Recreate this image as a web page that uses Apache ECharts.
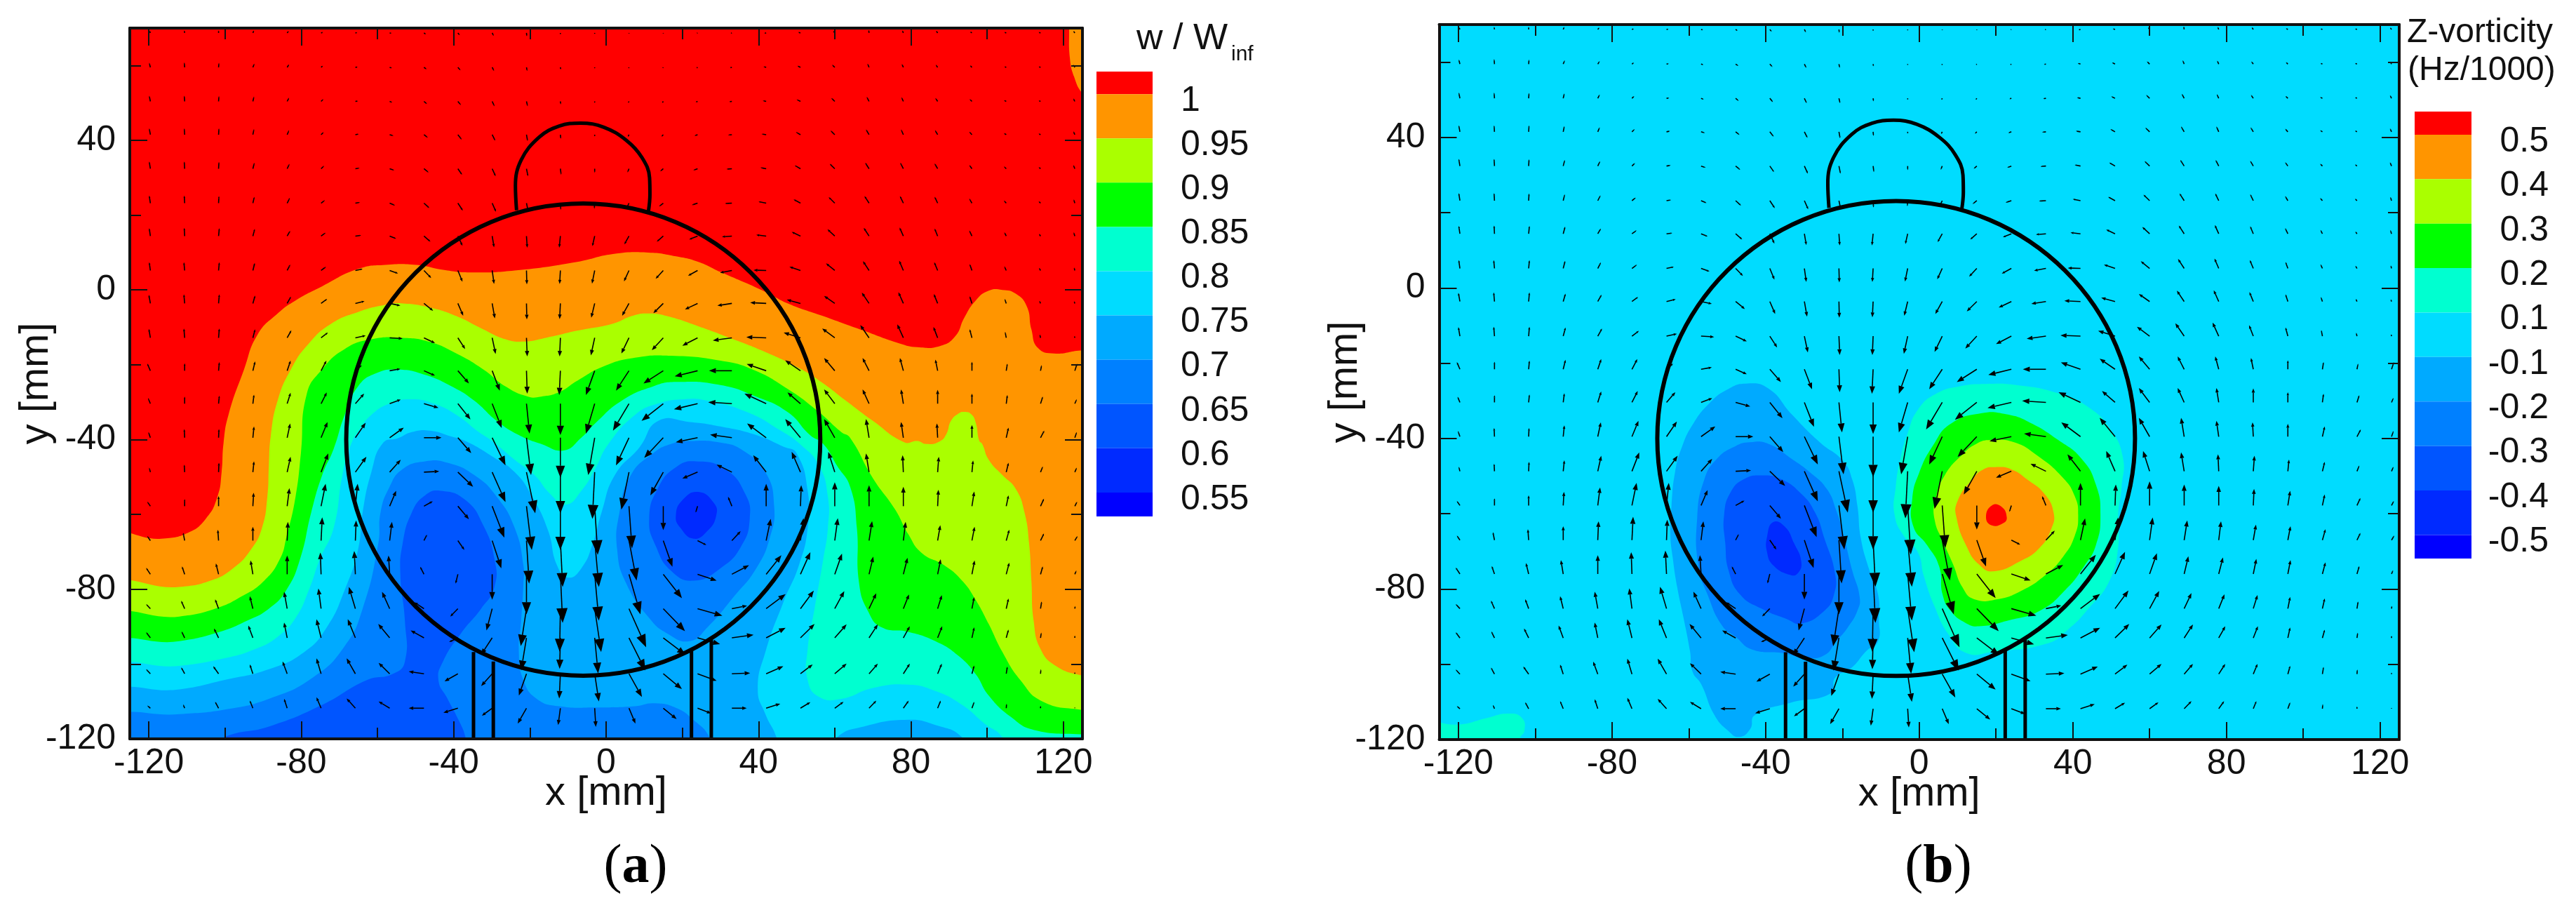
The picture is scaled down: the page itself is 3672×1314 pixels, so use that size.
<!DOCTYPE html>
<html>
<head>
<meta charset="utf-8">
<title>Wake survey</title>
<style>
  html, body { margin: 0; padding: 0; background: #fff; }
  #chart { width: 3672px; height: 1314px; }
</style>
<script src="https://cdn.jsdelivr.net/npm/echarts@6/dist/echarts.min.js"></script>
</head>
<body>
<div id="chart"></div>
<script>
// colour bands, top of the legend to the bottom
const bandColors = ['#ff0000', '#ff9500', '#aaff00', '#00ff00', '#00ffd0', '#00dcff', '#00aaff', '#0080ff', '#0055ff', '#002aff', '#0000ff']
const velLabels = ['1', '0.95', '0.9', '0.85', '0.8', '0.75', '0.7', '0.65', '0.6', '0.55']
const vortLabels = ['0.5', '0.4', '0.3', '0.2', '0.1', '-0.1', '-0.2', '-0.3', '-0.4', '-0.5']
const majorTicks = [-120, -80, -40, 0, 40, 80, 120]
const minorTicksX = [-100, -60, -20, 20, 60, 100]
const yMajorTicks = [-120, -80, -40, 0, 40]
const yMinorTicks = [-100, -60, -20, 20, 60]

// w / Winf contours [x mm, y mm]
const vel100 = [[-130,-66.9],[-116.7,-66.5],[-109.7,-64.9],[-105,-61.1],[-102,-55.3],[-100.9,-48.7],[-100.4,-41],[-99.1,-33.4],[-95,-21.2],[-91.5,-12],[-86.2,-6.3],[-81.5,-2.8],[-74.5,1],[-65.1,5.6],[-58,6.7],[-49.8,6.7],[-42.8,5.4],[-35.8,4.7],[-24,5.2],[-7.6,7.5],[1.8,9.6],[11.1,10],[18.3,9],[24.2,7.5],[30,4.8],[41.8,-.5],[47.7,-3.6],[57,-7],[67.6,-10.9],[77,-14.3],[81.7,-15.3],[87.6,-15],[91.6,-12.4],[94,-7.4],[97,-2.8],[100.4,-.2],[104,0],[107.5,-1],[110.4,-4.4],[111.6,-10.5],[113.3,-15.5],[117.5,-17],[124.5,-16.2],[131,-16],[131,-126],[-130,-126]]
const vel100Corner = [[121.5,76],[121.5,70],[121.7,62],[122.8,57],[125,52.5],[131,46],[131,76]]
const vel095 = [[-130,-80.6],[-112,-79.4],[-103.8,-77.7],[-97.9,-74.4],[-93.2,-69.4],[-90.3,-63.6],[-88.9,-55.3],[-88.5,-47],[-88,-39],[-86.2,-29.6],[-82.7,-21.2],[-78,-14.3],[-72.1,-9],[-65.1,-5.9],[-58,-4],[-53.4,-3.6],[-46.3,-4.7],[-39.3,-7],[-32.3,-10.5],[-26.4,-13.2],[-21.7,-13.8],[-15.8,-12.8],[-7.6,-10.9],[1.8,-9],[7,-6.9],[11.3,-6.3],[16,-7],[24.2,-9.7],[32.4,-12.8],[41.8,-16.6],[51.2,-21.2],[57,-25],[62.9,-29.6],[70,-35],[78.2,-40.7],[81.7,-40.4],[84,-41.2],[87.5,-40.5],[89.3,-38.5],[90.5,-35],[92.5,-33],[94,-32.6],[95.8,-33.2],[97,-35.5],[97.9,-40.3],[98.7,-41.2],[100.4,-45.4],[104,-49.5],[107.5,-53.2],[109.8,-59.5],[111,-67.8],[111.6,-77.7],[112.2,-88.5],[114,-96],[118,-100.5],[124.5,-103],[131,-104],[131,-126],[-130,-126]]
const vel090 = [[-130,-88.8],[-112,-87.3],[-102.6,-85.2],[-95.6,-81.9],[-89.7,-77.7],[-85.6,-71.9],[-83.9,-66.1],[-81.5,-55.3],[-80.1,-43.7],[-78.6,-28],[-74.5,-21.2],[-68.6,-15.8],[-61.6,-13.2],[-53.4,-12.8],[-46.3,-13.9],[-39.3,-17],[-32.3,-21.2],[-26.4,-25.8],[-20.5,-28.5],[-17,-28.5],[-12.3,-27.3],[-7.6,-24.3],[-.6,-20.4],[7.6,-18.1],[17,-17.6],[30,-18.9],[38.3,-21.2],[47.7,-26.5],[55.9,-32.7],[61.7,-38],[64,-39.5],[70,-50.3],[75.8,-58.6],[79.3,-65.3],[82.8,-70.3],[88.7,-73.6],[93.4,-77.7],[96.9,-82.7],[100.4,-89.3],[104,-96.8],[108.7,-104.3],[114.5,-110],[124.5,-112.2],[131,-112.5],[131,-126],[-130,-126]]
const vel085 = [[-130,-96],[-112,-93.9],[-101.4,-91.4],[-94.4,-88.5],[-88.5,-85.2],[-83.9,-80.2],[-80.3,-71.9],[-77.4,-59.5],[-74.5,-49.5],[-71.5,-42.5],[-68.6,-33.4],[-65.1,-25.8],[-60.4,-22.3],[-54.5,-21.3],[-47.5,-22.7],[-40.5,-25.8],[-34.6,-29.6],[-28.7,-35],[-22.9,-38.8],[-17,-41.2],[-11.1,-42.9],[-6.5,-39.5],[-2.9,-35.7],[4.1,-29.6],[12.3,-25.8],[18.3,-24.6],[30,-25.4],[39.4,-28.5],[47.7,-32.7],[53.5,-38.8],[57,-41.2],[60.6,-47],[64.1,-52.8],[65.8,-63.6],[66.4,-78.5],[68.8,-86],[72.3,-90.2],[79.3,-91.4],[86.4,-93.9],[92.2,-97.6],[96.9,-102.6],[100.4,-108.4],[106.3,-114.2],[112.2,-117.6],[124.5,-118.8],[131,-119],[131,-126],[-130,-126]]
const vel080 = [[-130,-102],[-112,-100.5],[-100.3,-98.5],[-92.1,-96],[-86.2,-92.7],[-81.5,-87.7],[-78,-80.2],[-75.1,-71.9],[-71.5,-63.6],[-69.2,-49.5],[-66.9,-41.2],[-64.5,-37],[-61.6,-33.4],[-56.9,-30.4],[-51,-29.2],[-45.2,-30.4],[-39.3,-33.4],[-33.4,-38],[-29.9,-40.4],[-24,-45.4],[-18.8,-49.5],[-14.7,-54.5],[-10.6,-57.4],[-6.5,-53.7],[-2.9,-47.9],[.6,-41.2],[7.6,-33.4],[13.5,-30.4],[20.5,-29.2],[26.5,-29.6],[37.1,-32.7],[45.3,-37.3],[51.2,-41.5],[55.9,-47],[58.2,-55.3],[58.2,-63.6],[57,-71.9],[54.7,-85.2],[52.9,-96],[52.9,-104.3],[55.9,-108.8],[61.7,-109.3],[70,-106.4],[79.3,-105.5],[86.4,-107.2],[93.4,-110.9],[99.3,-115.9],[104,-119.6],[106,-126],[-130,-126]]
const vel075 = [[-130,-108.4],[-112,-106.8],[-100.3,-104.3],[-88.5,-101.4],[-79.2,-96.8],[-73.3,-90.2],[-68.6,-80.2],[-65.1,-69.4],[-63.9,-59.5],[-61.6,-48.7],[-58.6,-41],[-54.5,-39.6],[-51,-38],[-46.3,-37.6],[-40.5,-39.2],[-36.9,-40.4],[-29.9,-44.5],[-24,-48.7],[-19.4,-55.3],[-15.2,-64.4],[-12.9,-73.6],[-10,-76.9],[-6.5,-74.4],[-3.5,-67.8],[-1.2,-59.5],[2.3,-49.5],[8.8,-42],[13.7,-35],[21.9,-35.3],[30,-36.5],[39.4,-38.8],[46.5,-41.9],[50,-43.7],[52.9,-53.7],[52.9,-63.6],[50.6,-73.6],[46.5,-83.5],[41.8,-96.8],[39.8,-106.8],[41.8,-113.4],[44.7,-119.6],[46,-126],[-130,-126]]
const vel075Bottom = [[57,-126],[60.6,-119.6],[67.6,-116.7],[79.3,-114.9],[86.4,-116.3],[93.4,-119.6],[96,-126]]
const vel070 = [[-130,-114.7],[-112,-113.4],[-100.3,-112.2],[-88.5,-109.3],[-76.8,-103.5],[-68.6,-95.2],[-63.9,-85.2],[-59.8,-67.8],[-59.2,-59.5],[-56.9,-52.8],[-53.4,-47.9],[-47.5,-45.8],[-41.6,-46.2],[-34.6,-49.5],[-28.7,-55.3],[-24,-63.6],[-21.7,-73.6],[-21.7,-78.5],[-22.3,-88.5],[-22.9,-96.8],[-21.7,-104.3],[-18.2,-109.3],[-12.3,-111.3],[-2.9,-111.6],[7.6,-111.3],[12.5,-110.5],[18.3,-111.7],[23,-115],[27.1,-119.6],[28.5,-126],[-130,-126]]
const vel070Right = [[21.9,-40.4],[30,-40.8],[35.9,-42.9],[41.8,-48.7],[44.1,-57.8],[43,-66.1],[39.4,-74.4],[33.6,-81.9],[26.6,-90.2],[21.9,-93.9],[16,-91.8],[11.3,-87.7],[5.3,-78.5],[2.9,-69.4],[3.5,-59.5],[6.5,-49.5],[12.3,-43.7],[17,-41.2]]
const vel065 = [[-100.3,-119.6],[-88.5,-116.7],[-74.5,-110.9],[-62.8,-104.3],[-55.9,-102.6],[-52.8,-99.3],[-52.8,-88.5],[-54,-76.1],[-53.4,-67.8],[-51,-59.5],[-47.5,-54.9],[-43.4,-53.7],[-37,-56.1],[-32.3,-62.8],[-29.3,-71.9],[-29.3,-79.4],[-32.8,-85.2],[-38.1,-91.8],[-42.8,-99.3],[-44,-104.3],[-41.6,-109.3],[-38.7,-115],[-36.9,-119.6],[-36,-126],[-110,-126]]
const vel065Right = [[23.6,-45.8],[31.2,-47.9],[36.5,-54.5],[37.7,-61.1],[35.4,-68.6],[30,-74.4],[23,-77.7],[17.2,-75.2],[13.1,-68.6],[11.3,-61.1],[13.7,-52.8],[18.3,-47.4]]
const vel060 = [[24.2,-54],[28.3,-57],[28.9,-60.3],[26.6,-64.4],[23,-66.5],[19.5,-63.6],[18.3,-60.3],[20.1,-56.1]]

// z-vorticity contours
const vortM01 = [[-45.2,-25.4],[-39.3,-26.7],[-33.2,-33.6],[-25.9,-41],[-19.8,-46],[-17.4,-51],[-16.1,-57.8],[-15.2,-66.5],[-13.1,-74.6],[-10.7,-81.5],[-10.5,-88],[-10.7,-93.9],[-13.7,-96.4],[-17.7,-101],[-21.9,-103.6],[-23,-107.7],[-33.5,-110.2],[-42.8,-113.5],[-44,-117.2],[-46.9,-119.3],[-49.8,-117.6],[-53.3,-113.5],[-56.8,-105.2],[-59,-102],[-59.7,-96.4],[-61.5,-87],[-63,-79.6],[-64.2,-71.5],[-64.8,-65.3],[-64.5,-57.8],[-63.6,-49.1],[-61.8,-42.3],[-58.8,-36],[-54.5,-30.5],[-50,-27]]
const vortM02 = [[-44.1,-41],[-39.3,-41.4],[-33.2,-45.4],[-28.3,-49.1],[-24,-53.5],[-21.6,-59.1],[-19.8,-65.3],[-17.4,-75.2],[-15.5,-82.1],[-16.1,-85.8],[-18.6,-90.2],[-21.6,-93.9],[-24.7,-97.6],[-29.5,-98.3],[-35.6,-97],[-43.5,-96.1],[-47.8,-92.7],[-51.4,-89.6],[-55.1,-81.5],[-57.5,-74],[-57.8,-60.9],[-56,-51],[-52.7,-45.4],[-47.8,-42]]
const vortM03 = [[-41.1,-49.8],[-36.2,-50.7],[-30.7,-54.7],[-27.1,-59.7],[-24.7,-66.5],[-21.9,-75.9],[-22.2,-81.5],[-24.7,-85.8],[-30.7,-89.2],[-34.4,-88],[-41.1,-85.2],[-46.6,-81.5],[-49.6,-75.2],[-50.5,-67.8],[-50.8,-60.3],[-49,-54.1],[-45.4,-50.7]]
const vortM04 = [[-38,-62.2],[-35,-63.4],[-32.6,-67.8],[-30.7,-72.8],[-31.7,-75.9],[-33.8,-76.2],[-38,-73.7],[-39.6,-70.3],[-39.6,-66]]
const vortP01 = [[17.4,-25.5],[25.3,-25.8],[36.2,-28],[44.1,-31.7],[49.6,-37.3],[53,-44.8],[52.7,-52.9],[51.8,-60.3],[51.8,-69],[49.6,-77.7],[44.1,-85.2],[38.7,-90.8],[33.2,-94.5],[19.6,-96.6],[12.3,-97],[7.6,-92],[4,-84.6],[1.2,-76.5],[-.3,-70.3],[-4,-65.9],[-6.4,-60.3],[-6.1,-52.8],[-4.9,-45.4],[-3,-38.6],[-.3,-32.3],[4.6,-28],[10.7,-26.1]]
const vortP01Corner = [[-130,-116],[-119.7,-116],[-112.7,-114.3],[-106.9,-113.1],[-103.4,-114.3],[-102.8,-117.6],[-104,-119.7],[-105,-126],[-130,-126]]
const vortP02 = [[16.1,-33.3],[22.8,-33.6],[28.9,-35.8],[36.2,-40.4],[42.3,-45.4],[46,-52.2],[47.2,-60.3],[46,-68.4],[42.9,-74],[38.1,-80.2],[31.4,-85.8],[23.4,-88.3],[15.5,-89.9],[11.9,-88.9],[8.2,-85.8],[6.1,-81.5],[5.2,-74],[2.1,-68.4],[-1.5,-63.4],[-1.8,-56],[0,-49.1],[3.7,-41.7],[8.2,-36.1]]
const vortP03 = [[18.6,-40.4],[24.7,-41],[30.7,-44.5],[37.4,-50.4],[40.5,-55.3],[41.4,-60.3],[40.5,-65.9],[37.4,-71.5],[32.6,-76.5],[26.5,-80.5],[20.4,-82.7],[14.3,-82.7],[11.3,-79.6],[8.8,-73.4],[6.4,-67.8],[4,-61.5],[4.3,-56],[6.7,-49.7],[11.3,-44.2],[14.9,-41.4]]
const vortP04 = [[19.8,-47.6],[24,-48.2],[28.3,-51],[32.6,-54.7],[35,-59.7],[34.4,-64],[31.4,-69],[26.5,-72.5],[19.2,-75.3],[15.5,-73.4],[12.5,-69],[9.7,-61],[10,-56.6],[13.7,-51],[16.7,-48.2]]
const vortP05 = [[18.9,-57.8],[21.4,-58.1],[22.8,-60.9],[21.9,-62.5],[18.9,-63.1],[17.4,-60.9]]

// head outline, both panels
const headCentre = [-6, -40]
const headRadius = [62.2, 63.1]
const noseLine = [[-23.5,21.3],[-23.8,27.8],[-22.3,34.7],[-17.6,40.8],[-12.3,43.8],[-6.7,44.6],[-.6,43.5],[5.3,40],[9.4,35.4],[11.4,30],[11.5,25.5],[11.1,21]]
const supportLines = [[[-34.8,-96.8],[-34.8,-120]], [[-29.6,-99.3],[-29.6,-120]], [[22.4,-96.4],[22.4,-120]], [[27.6,-93.5],[27.6,-120]]]

// velocity arrows: tail positions and components in mm, same field on both panels
const arrowX = [-119.6,-110.6,-101.7,-92.7,-83.7,-74.8,-65.8,-56.8,-47.8,-38.9,-29.9,-20.9,-12,-3,6,15,24,33,42,51,60,69,78,87,96,105,114,123]
const arrowY = [68.7,59.5,50.4,41.5,32.4,23.2,14.4,5.2,-3.6,-12.8,-21.6,-30.4,-39.5,-48.7,-57.8,-67,-76,-85.2,-93,-102.6,-111.8]
const arrowU = [
  [-.2,-.1,0,.3,.4,.5,.5,.5,.5,.5,.4,.1,0,0,0,0,-.2,-.3,-.5,-.6,-.4,-.1,-.3,-.4,-.5,-.5,-.5,-.4],
  [-.3,-.1,.1,.4,.5,.5,.6,.6,.7,.7,.5,.2,.1,0,-.1,-.2,-.3,-.5,-.7,-.8,-.7,-.4,-.4,-.5,-.5,-.5,-.5,-.4],
  [-.3,-.1,.1,.3,.5,.6,.7,.7,.8,.8,.6,.3,.1,0,-.2,-.3,-.5,-.7,-.9,-1,-.9,-.6,-.5,-.6,-.6,-.6,-.5,-.4],
  [-.3,-.1,.1,.3,.5,.7,.9,1,1,1,.8,.3,.1,0,-.3,-.5,-.8,-1,-1.2,-1.2,-1.1,-.8,-.6,-.7,-.7,-.6,-.5,-.4],
  [-.3,-.1,.1,.4,.6,.8,1.1,1.2,1.2,1.1,.9,.4,.2,0,-.4,-.8,-1.1,-1.4,-1.5,-1.5,-1.3,-1,-.8,-.8,-.7,-.6,-.5,-.4],
  [-.3,-.1,.1,.4,.7,1,1.2,1.4,1.4,1.3,1,.5,.1,-.1,-.6,-1.1,-1.5,-1.8,-2,-1.8,-1.6,-1.2,-.9,-.8,-.7,-.6,-.5,-.3],
  [-.3,-.1,.2,.5,.8,1.2,1.5,1.7,1.7,1.2,.5,.2,-.3,-.6,-1.2,-1.7,-2.2,-2.6,-2.6,-2.3,-1.9,-1.4,-1,-.8,-.7,-.5,-.4,-.3],
  [-.3,-.2,.2,.5,.8,1.3,1.9,2.2,1.9,1.2,.5,.1,-.2,-.7,-1.3,-2,-2.5,-3.1,-3.3,-2.9,-2.3,-1.6,-1.1,-.9,-.6,-.5,-.4,-.2],
  [-.4,-.2,.2,.6,1,1.6,2.4,2.8,2.4,1.4,.7,.1,-.2,-.9,-1.8,-2.6,-3.3,-3.8,-4.2,-3.6,-2.8,-1.9,-1.3,-1,-.6,-.4,-.3,-.2],
  [-.4,-.2,.2,.6,1.1,1.8,2.7,3.4,2.9,1.9,.9,.2,-.2,-1,-2,-3,-4,-5,-5.2,-4.4,-3.3,-2.3,-1.6,-1.1,-.6,-.3,-.2,-.1],
  [-.8,0,.2,.6,.9,1.4,1.7,2.8,2.9,2.9,2,.2,-.3,-2.3,-3.4,-5.2,-6,-6,-5.1,-4,-2.8,-1.7,-.9,-.6,0,.3,.3,.6],
  [-.6,0,.2,.3,.9,1.5,2.3,2.9,3.8,3.3,2.5,.8,0,-2.3,-4.2,-5.7,-6.2,-6.2,-5.7,-3.4,-2.8,-1.7,-.6,0,0,.3,.6,.5],
  [-.5,-.1,.1,.3,.8,1.7,2.7,3.7,4.6,3.5,3.5,1.2,0,-1.7,-3.4,-5,-5.7,-5.7,-5,-4,-2.8,-.8,-.6,-.2,0,.6,1,.5],
  [-.3,-.1,.1,.3,.9,1.9,2.9,2.9,4,4,3.5,2.3,0,-.6,-2,-3.4,-4,-4,-3.4,-2.3,-1.7,-.8,-.2,.3,.3,.6,.6,.5],
  [-.8,0,0,.2,.6,1.2,.6,1.7,2.3,2.9,3.2,1.4,0,.8,.8,0,-.5,-1,0,.2,0,0,0,.2,.6,.6,.9,.6],
  [-.8,-.4,-.2,0,.2,.3,.2,.6,.8,1.7,2.4,.7,.6,1.1,2,2.4,2.3,2.3,1.2,.8,.8,.8,.6,.7,.7,.8,.9,.7],
  [-1.1,-.7,-.7,-.6,0,-.2,-.3,-.3,-1,-.6,0,0,.6,1.1,3,4.9,5,4.5,4,2.6,1.9,1.1,1.1,.8,.7,.8,.6,.4],
  [-1.1,-.9,-.9,-.8,-.8,-.7,-1.7,-2,-2.5,-2,-1.5,-1.5,-.2,1.7,4.5,5.7,6.5,4,5.1,3.5,2.5,1.9,1.5,1.1,.6,.6,.3,.1],
  [-1.1,-.8,-1.2,-1.2,-.8,-1.2,-2,-3,-3.5,-2.3,-2.9,-1.4,-.2,.9,4.3,5.8,5.9,5.7,5.1,3.7,3.1,2.3,1.7,1.2,.6,.6,.2,0],
  [-1.1,-.9,-1.4,-.8,-1.2,-1.2,-2.3,-2.9,-4,-3.5,-2.9,-2,-.3,1.1,3.4,4.9,5,4.8,4.5,3.2,3.1,2.3,1.7,1.1,.6,.3,.1,0],
  [-.8,-.4,-.9,-.8,-.8,-1.2,-2.3,-2.9,-4,-3.8,-2.7,-2.3,-.6,.3,1.7,3.5,3.6,3.9,3.7,2.6,2.3,1.9,1.4,.8,.6,.1,0,0]
]
const arrowV = [
  [.6,.7,.7,.7,.5,.2,.1,-.1,-.4,-.6,-.8,-.9,-.4,-.3,-.2,-.2,-.1,-.1,-.1,.2,.6,.8,.7,.6,.3,.2,.2,.5],
  [1.2,1.3,1.2,1,.8,.4,.1,-.2,-.5,-.8,-1,-1,-.6,-.3,-.3,-.2,-.2,-.1,.2,.4,.7,1,.9,.7,.5,.2,.2,.7],
  [1.5,1.5,1.4,1.3,1,.6,.1,-.3,-.7,-1,-1.3,-1.3,-.8,-.4,-.4,-.4,-.2,-.1,.2,.5,.9,1.2,1.1,.9,.6,.3,.2,.8],
  [1.7,1.7,1.7,1.5,1.2,.7,.2,-.3,-.8,-1.3,-1.6,-1.7,-1.1,-.5,-.6,-.5,-.3,-.1,.2,.7,1.1,1.4,1.4,1.2,.8,.4,.3,.9],
  [1.9,1.9,1.8,1.6,1.3,.8,.2,-.4,-1,-1.6,-2,-2,-1.6,-1.1,-1,-.7,-.4,-.1,.3,.9,1.3,1.6,1.6,1.4,1,.6,.4,1],
  [2,2,1.9,1.7,1.4,.8,.2,-.6,-1.3,-2,-2.3,-2.4,-1.8,-1.5,-1.3,-.9,-.5,-.1,.4,1,1.6,1.9,1.9,1.7,1.2,.7,.5,1],
  [2.1,2.2,2.1,1.9,1.4,.9,.2,-.7,-1.5,-2.6,-3,-3.1,-3.1,-2.7,-2.2,-1.5,-.9,-.2,.3,1.1,1.8,2.2,2.3,2,1.5,1,.6,1],
  [2.2,2.2,2.2,2,1.6,1,.4,-.8,-2,-3,-3.6,-3.7,-3.6,-3.5,-2.9,-2.2,-1.4,-.6,.1,1,1.9,2.5,2.6,2.2,1.7,1.1,.7,.8],
  [2.3,2.4,2.4,2.1,1.8,1.2,.6,-.6,-2,-3.3,-4,-4.3,-4.2,-3.8,-3.3,-2.6,-1.6,-.6,.2,1,2,2.9,3,2.5,1.9,1.2,.7,.6],
  [2.4,2.5,2.5,2.3,2,1.4,.6,-.2,-1.4,-3,-4.3,-5,-5,-4.7,-4.2,-3.3,-2.1,-.7,.2,1.4,2.5,3.4,3.6,2.9,2.3,1.6,.9,.5],
  [1.9,2,2.3,2.5,2.7,2.7,1.5,.5,-1.3,-3.4,-5.3,-6.1,-6.5,-6.5,-5.3,-3.4,-1.5,0,1.8,2.8,3.4,3.4,3.4,3,2.4,1.9,1.5,1.9],
  [1.5,1.9,2.1,2.4,2.9,3,2.7,1.1,-1.1,-4.2,-6.5,-8,-8.4,-8,-7.2,-4.6,-1.5,.4,2.7,3,3.8,3.8,3.8,3.7,2.7,2.3,1.9,1.2],
  [1.5,2.3,2.3,3,3.8,4.2,4,2.7,0,-4.1,-7.4,-10,-10.7,-10,-7.4,-5.4,-1.2,.8,3.8,5,5,5,4.2,3.8,3.4,2.7,1.9,1.5],
  [1.2,2,2.5,2.9,4.1,5,4.1,3.3,.2,-3.9,-8,-11,-11,-12.5,-10,-6.2,-1.7,2,4.5,5.4,5.4,5,4.5,4.1,3.1,2.5,1.5,1.2],
  [1.2,1.9,2.7,3.6,4.8,6,6,4.1,1.3,-3.5,-8.4,-11.7,-11.7,-13,-11.3,-6.4,-1.7,2.5,6,5.6,6.4,5.6,5.2,4.4,3.9,2.9,2,1.2],
  [1.2,2.1,2.9,3.7,5,6.2,5.4,5,1.6,-2.5,-7.4,-11.5,-12.4,-12.4,-10.7,-7,-1.2,2.5,5.8,6,6,5.2,5,4.1,3.7,2.9,1.9,1.2],
  [1.7,2.1,2.9,3.7,5,5.8,6.2,5,2,-2.5,-6.8,-10.7,-13,-12.4,-10.7,-6.4,-1.7,2.4,5.1,5.9,5.5,4.7,4.4,4,3.7,3.1,2.1,1],
  [1.2,2.1,2.5,3.3,4.5,5.4,5.8,4.5,1.7,-2.1,-5.8,-10,-11.5,-11.6,-10.3,-6,-1.9,.8,3.9,4.8,4.7,4.1,3.8,3.6,3.1,2.7,1.9,.7],
  [1.5,1.7,2.5,3.3,4.1,5,5,3.7,2,-1.1,-4.5,-8.7,-8.3,-9.5,-8.7,-4.5,-1.7,.8,2.7,3.7,3.6,3.6,3.1,3.1,2.8,2.2,1.4,.6],
  [1.2,1.7,2,2.5,3.3,4.1,4.1,2.9,.6,-2,-3.3,-5.8,-6.6,-7.4,-6.2,-4.1,-1.9,.2,2,2.5,2.7,2.7,2.7,2.7,2.2,1.9,1.2,.4],
  [.7,1,1.7,2,2.5,2.9,2.6,1.8,0,-1.2,-2,-4.1,-4.5,-5,-4.1,-2.9,-1.4,0,1.2,1.6,1.7,2,2,2,1.7,1.2,.6,.2]
]

const FONT = '"Liberation Sans", Arial, sans-serif'
const TEXT = '#111'

// polygons painted back to front, [colour index, outline]
const velBands = [[1,vel100],[1,vel100Corner],[2,vel095],[3,vel090],[4,vel085],[5,vel080],[6,vel075],[6,vel075Bottom],[7,vel070],[7,vel070Right],[8,vel065],[8,vel065Right],[9,vel060]]
const vortBands = [[4,vortP01Corner],[6,vortM01],[7,vortM02],[8,vortM03],[9,vortM04],[4,vortP01],[3,vortP02],[2,vortP03],[1,vortP04],[0,vortP05]]

const arrowData = []
arrowY.forEach((y, r) => arrowX.forEach((x, c) => arrowData.push([x, y, arrowU[r][c], arrowV[r][c]])))

function renderBand(bands) {
  return function (params, api) {
    const band = bands[params.dataIndex]
    return {
      type: 'polygon',
      shape: { points: band[1].map(p => api.coord(p)), smooth: 0.5 },
      style: { fill: bandColors[band[0]] }
    }
  }
}

function renderArrow(params, api) {
  const x = api.value(0), y = api.value(1)
  const tail = api.coord([x, y])
  const tip = api.coord([x + api.value(2), y + api.value(3)])
  const dx = tip[0] - tail[0], dy = tip[1] - tail[1]
  const len = Math.sqrt(dx * dx + dy * dy) || 1
  const ux = dx / len, uy = dy / len
  const bx = tip[0] - ux * len * 0.3, by = tip[1] - uy * len * 0.3
  const w = len * 0.115
  return {
    type: 'group',
    children: [
      { type: 'line', shape: { x1: tail[0], y1: tail[1], x2: bx, y2: by }, style: { stroke: '#000', lineWidth: 1.6 } },
      { type: 'polygon', shape: { points: [tip, [bx - uy * w, by + ux * w], [bx + uy * w, by - ux * w]] }, style: { fill: '#000' } }
    ]
  }
}

function renderHead(params, api) {
  const c = api.coord(headCentre)
  const e = api.coord([headCentre[0] + headRadius[0], headCentre[1] + headRadius[1]])
  return {
    type: 'ellipse',
    shape: { cx: c[0], cy: c[1], rx: e[0] - c[0], ry: c[1] - e[1] },
    style: { fill: 'none', stroke: '#000', lineWidth: 6 }
  }
}

// colour bar, one rect per band; labels sit just under the band edge as in the original
function renderBar(labels, labelX, align) {
  return function (params, api) {
    const i = params.dataIndex
    const top = i === 0 ? params.coordSys.y : api.coord([0, i - 1])[1]
    const bottom = i === labels.length ? params.coordSys.y + params.coordSys.height : api.coord([0, i])[1]
    const children = [{
      type: 'rect',
      shape: { x: params.coordSys.x, y: top, width: params.coordSys.width, height: bottom - top },
      style: { fill: bandColors[i] }
    }]
    if (i < labels.length) {
      children.push({
        type: 'text',
        style: { text: labels[i], x: params.coordSys.x + labelX, y: bottom + 10, align: align, verticalAlign: 'middle', fill: TEXT, font: '50px ' + FONT }
      })
    }
    return { type: 'group', children: children }
  }
}

function panelAxes(grid, isX, range, majors, minors, name, nameGap) {
  const first = isX ? 'bottom' : 'left'
  const second = isX ? 'top' : 'right'
  const base = { type: 'value', gridIndex: grid, min: range[0], max: range[1], splitLine: { show: false }, z: 6 }
  const tick = (values, length) => ({ show: true, inside: true, length: length, customValues: values, lineStyle: { color: '#111', width: 2 } })
  const frame = { show: true, onZero: false, lineStyle: { color: '#111', width: 4 } }
  return [
    Object.assign({}, base, {
      position: first, axisLine: frame, axisTick: tick(majors, 25),
      axisLabel: { show: true, customValues: majors, margin: isX ? 10 : 20, fontFamily: FONT, fontSize: 50, color: TEXT },
      name: name, nameLocation: 'middle', nameGap: nameGap, nameMoveOverlap: false,
      nameTextStyle: { fontFamily: FONT, fontSize: 58, color: TEXT }
    }),
    Object.assign({}, base, { position: first, axisLine: { show: false, onZero: false }, axisTick: tick(minors, 16), axisLabel: { show: false } }),
    Object.assign({}, base, { position: second, axisLine: frame, axisTick: tick(majors, 25), axisLabel: { show: false } }),
    Object.assign({}, base, { position: second, axisLine: { show: false, onZero: false }, axisTick: tick(minors, 16), axisLabel: { show: false } })
  ]
}

function hiddenAxis(grid, min, max, inverse) {
  return { type: 'value', gridIndex: grid, show: false, min: min, max: max, inverse: inverse }
}

const xRange = [-125, 125]
const yRange = [-120, 70]

function panelSeries(base, grid, bands) {
  const at = { xAxisIndex: base, yAxisIndex: base, coordinateSystem: 'cartesian2d' }
  const head = { type: 'line', showSymbol: false, silent: true, z: 4, clip: true, lineStyle: { color: '#000', width: 5 } }
  return [
    Object.assign({ type: 'custom', z: 1, clip: true, renderItem: renderBand(bands), data: bands.map((b, i) => [i]) }, at),
    Object.assign({ type: 'custom', z: 3, clip: true, renderItem: renderArrow, data: arrowData }, at),
    Object.assign({ type: 'custom', z: 4, clip: true, renderItem: renderHead, data: [[0]] }, at),
    Object.assign({}, head, at, { smooth: 0.4, data: noseLine })
  ].concat(supportLines.map(l => Object.assign({}, head, at, { data: l })))
}

const chart = echarts.init(document.getElementById('chart'))
chart.setOption({
  animation: false,
  backgroundColor: '#fff',
  grid: [
    { left: 185, top: 40, width: 1358, height: 1013, show: true, backgroundColor: bandColors[0], borderWidth: 0 },
    { left: 2051.5, top: 35, width: 1368.5, height: 1019, show: true, backgroundColor: bandColors[5], borderWidth: 0 },
    { left: 1563, top: 102, width: 80, height: 634 },
    { left: 3442, top: 159, width: 81, height: 637 }
  ],
  xAxis: [].concat(
    panelAxes(0, true, xRange, majorTicks, minorTicksX, 'x [mm]', 49),
    panelAxes(1, true, xRange, majorTicks, minorTicksX, 'x [mm]', 49),
    hiddenAxis(2, 0, 1, false),
    hiddenAxis(3, 0, 1, false)
  ),
  yAxis: [].concat(
    panelAxes(0, false, yRange, yMajorTicks, yMinorTicks, 'y [mm]', 104),
    panelAxes(1, false, yRange, yMajorTicks, yMinorTicks, 'y [mm]', 105),
    hiddenAxis(2, -0.51, 9.54, true),
    hiddenAxis(3, -0.52, 9.53, true)
  ),
  series: [].concat(
    panelSeries(0, 0, velBands),
    panelSeries(4, 1, vortBands),
    { type: 'custom', xAxisIndex: 8, yAxisIndex: 8, clip: false, renderItem: renderBar(velLabels, 120, 'left'), data: bandColors.map((c, i) => [i]) },
    { type: 'custom', xAxisIndex: 9, yAxisIndex: 9, clip: false, renderItem: renderBar(vortLabels, 191, 'right'), data: bandColors.map((c, i) => [i]) }
  ),
  graphic: [
    { type: 'text', x: 1620, y: 56, style: { text: 'w / W', font: '52px ' + FONT, fill: TEXT, verticalAlign: 'middle' } },
    { type: 'text', x: 1755, y: 78, style: { text: 'inf', font: '30px ' + FONT, fill: TEXT, verticalAlign: 'middle' } },
    { type: 'text', x: 3431, y: 47, style: { text: 'Z-vorticity', font: '48px ' + FONT, fill: TEXT, verticalAlign: 'middle' } },
    { type: 'text', x: 3432, y: 101, style: { text: '(Hz/1000)', font: '48px ' + FONT, fill: TEXT, verticalAlign: 'middle' } },
    { type: 'text', x: 906, y: 1237, style: { text: '{p|(}{l|a}{p|)}', align: 'center', verticalAlign: 'middle', rich: { p: { font: '78px "Liberation Serif"', fill: '#000' }, l: { font: 'bold 78px "Liberation Serif"', fill: '#000' } } } },
    { type: 'text', x: 2763, y: 1237, style: { text: '{p|(}{l|b}{p|)}', align: 'center', verticalAlign: 'middle', rich: { p: { font: '78px "Liberation Serif"', fill: '#000' }, l: { font: 'bold 78px "Liberation Serif"', fill: '#000' } } } }
  ]
})
window.addEventListener('resize', () => chart.resize())
</script>
</body>
</html>
